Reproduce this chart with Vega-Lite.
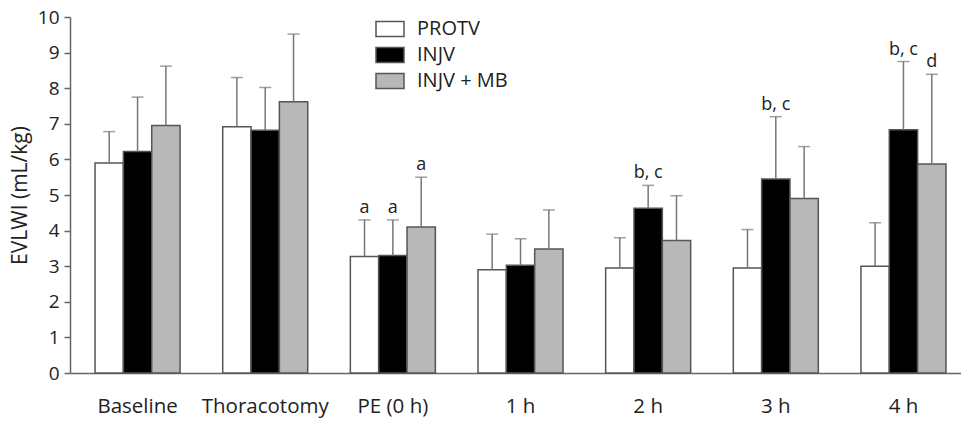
{
  "$schema": "https://vega.github.io/schema/vega-lite/v6.json",
  "autosize": {"type": "none"},
  "padding": {"left": 70, "top": 17, "right": 0, "bottom": 48},
  "width": 891,
  "height": 356,
  "background": "white",
  "config": {
    "font": "Open Sans",
    "view": {"stroke": null},
    "axis": {"grid": false, "domainColor": "#666", "tickColor": "#666", "labelColor": "#222", "titleColor": "#222", "labelFont": "Open Sans", "titleFont": "Open Sans"}
  },
  "data": {
    "values": [
      {"time": "Baseline", "group": "PROTV", "value": 5.9, "top": 6.78, "label": ""},
      {"time": "Baseline", "group": "INJV", "value": 6.22, "top": 7.75, "label": ""},
      {"time": "Baseline", "group": "INJV + MB", "value": 6.95, "top": 8.62, "label": ""},
      {"time": "Thoracotomy", "group": "PROTV", "value": 6.92, "top": 8.3, "label": ""},
      {"time": "Thoracotomy", "group": "INJV", "value": 6.82, "top": 8.02, "label": ""},
      {"time": "Thoracotomy", "group": "INJV + MB", "value": 7.62, "top": 9.52, "label": ""},
      {"time": "PE (0 h)", "group": "PROTV", "value": 3.27, "top": 4.3, "label": "a"},
      {"time": "PE (0 h)", "group": "INJV", "value": 3.3, "top": 4.3, "label": "a"},
      {"time": "PE (0 h)", "group": "INJV + MB", "value": 4.1, "top": 5.5, "label": "a"},
      {"time": "1 h", "group": "PROTV", "value": 2.9, "top": 3.9, "label": ""},
      {"time": "1 h", "group": "INJV", "value": 3.03, "top": 3.77, "label": ""},
      {"time": "1 h", "group": "INJV + MB", "value": 3.48, "top": 4.58, "label": ""},
      {"time": "2 h", "group": "PROTV", "value": 2.95, "top": 3.8, "label": ""},
      {"time": "2 h", "group": "INJV", "value": 4.63, "top": 5.27, "label": "b, c"},
      {"time": "2 h", "group": "INJV + MB", "value": 3.72, "top": 4.98, "label": ""},
      {"time": "3 h", "group": "PROTV", "value": 2.95, "top": 4.03, "label": ""},
      {"time": "3 h", "group": "INJV", "value": 5.45, "top": 7.2, "label": "b, c"},
      {"time": "3 h", "group": "INJV + MB", "value": 4.9, "top": 6.36, "label": ""},
      {"time": "4 h", "group": "PROTV", "value": 3.0, "top": 4.22, "label": ""},
      {"time": "4 h", "group": "INJV", "value": 6.83, "top": 8.75, "label": "b, c"},
      {"time": "4 h", "group": "INJV + MB", "value": 5.87, "top": 8.39, "label": "d"}
    ]
  },
  "encoding": {
    "x": {
      "field": "time", "type": "nominal",
      "sort": ["Baseline", "Thoracotomy", "PE (0 h)", "1 h", "2 h", "3 h", "4 h"],
      "scale": {"paddingInner": 0.334, "paddingOuter": 0.157, "align": 0.625},
      "axis": {"title": null, "labelAngle": 0, "ticks": false, "labelPadding": 23, "labelFontSize": 20.5, "domainWidth": 1.5}
    },
    "xOffset": {
      "field": "group", "type": "nominal",
      "sort": ["PROTV", "INJV", "INJV + MB"],
      "scale": {"paddingInner": 0, "paddingOuter": 0}
    },
    "y": {
      "field": "value", "type": "quantitative",
      "scale": {"domain": [0, 10], "nice": false, "zero": true},
      "axis": {
        "title": "EVLWI (mL/kg)", "values": [0, 1, 2, 3, 4, 5, 6, 7, 8, 9, 10], "tickCount": 20, "format": "d",
        "labelFontSize": 19, "tickSize": 6, "labelPadding": 5, "domainWidth": 1.5, "tickWidth": 1.5,
        "labelOverlap": false, "titleFontSize": 21, "titleFontWeight": "normal", "titlePadding": 7
      }
    }
  },
  "layer": [
    {
      "mark": {"type": "bar", "stroke": "#555", "strokeWidth": 1.5},
      "encoding": {
        "fill": {
          "field": "group", "type": "nominal",
          "sort": ["PROTV", "INJV", "INJV + MB"],
          "scale": {"domain": ["PROTV", "INJV", "INJV + MB"], "range": ["#ffffff", "#000000", "#b8b8b8"]},
          "legend": {
            "orient": "none", "legendX": 305, "legendY": -3, "title": null,
            "symbolType": "M-1,-0.54H1V0.54H-1Z", "symbolSize": 784,
            "symbolStrokeColor": "#555", "symbolStrokeWidth": 1.5,
            "labelFontSize": 20, "labelColor": "#222", "labelFont": "Open Sans",
            "rowPadding": 0, "padding": 0, "labelOffset": 12
          }
        }
      }
    },
    {
      "mark": {"type": "rule", "color": "#777", "strokeWidth": 1.5},
      "encoding": {
        "y2": {"field": "top"}
      }
    },
    {
      "mark": {"type": "tick", "orient": "horizontal", "color": "#777", "size": 12, "thickness": 1.5},
      "encoding": {
        "y": {"field": "top", "type": "quantitative"}
      }
    },
    {
      "transform": [{"filter": "datum.label != ''"}],
      "mark": {"type": "text", "baseline": "bottom", "dy": -3, "fontSize": 18, "color": "#222"},
      "encoding": {
        "y": {"field": "top", "type": "quantitative"},
        "text": {"field": "label"}
      }
    }
  ]
}
